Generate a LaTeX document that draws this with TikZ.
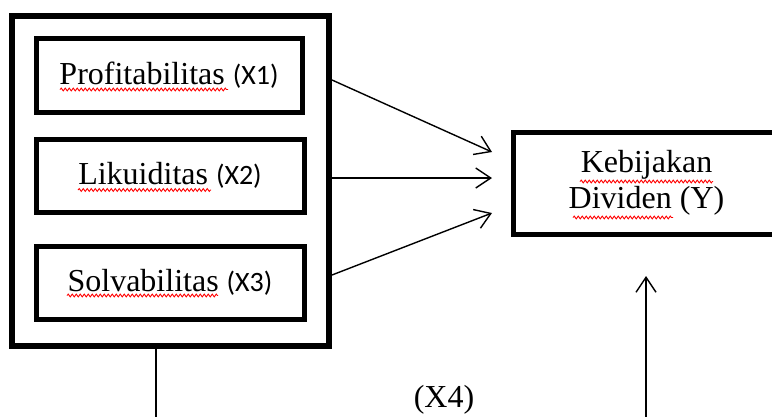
\documentclass[tikz,border=0pt]{standalone}
\usepackage{fontspec}
\setmainfont{Liberation Serif}
\newfontfamily\sansx{Carlito}
\usetikzlibrary{arrows.meta,decorations.pathmorphing}
\begin{document}
\begin{tikzpicture}[x=1pt,y=-1pt,
  varbox/.style={draw,line width=5pt,minimum width=268pt,minimum height=73pt,inner sep=0pt,
    font=\fontsize{32}{36}\selectfont},
  grpbox/.style={draw,line width=6pt,minimum width=317pt,minimum height=330pt,inner sep=0pt},
  arr/.style={line width=1.4pt,-{Straight Barb[length=15pt,width=20pt,line width=1.4pt]}},
  plain/.style={line width=1.4pt},
  lbl/.style={font=\fontsize{32}{36}\selectfont,inner sep=0pt},
  wavy/.style={red,line width=0.9pt,decorate,decoration={snake,segment length=4pt,amplitude=1.4pt}}
]
\useasboundingbox (0,0) rectangle (772,416);
\clip (0,0) rectangle (772,416);
% group box
\node[grpbox] (grp) at (170.5,181) {};
\node[varbox,minimum width=266pt,minimum height=74pt] (p1) at (169,75) {Profitabilitas {\sansx\fontsize{28}{32}\selectfont(X1)}};
\node[varbox] (p2) at (170,175.5) {Likuiditas {\sansx\fontsize{28}{32}\selectfont(X2)}};
\node[varbox] (p3) at (170,282.5) {Solvabilitas {\sansx\fontsize{28}{32}\selectfont(X3)}};
% dependent
\node[varbox,minimum width=267pt,minimum height=102pt,align=center] (y) at (646.5,183)
  {Kebijakan\\Dividen (Y)};
% moderator label
\node[lbl,anchor=base] (x4) at (444,407) {(X4)};
% arrow ends
\coordinate (t1) at (492,152);
\coordinate (t2) at (492,178);
\coordinate (t3) at (492,213);
\coordinate (t4) at (646,276);
\coordinate (b1) at (156,420);
\coordinate (b2) at (646,420);
\draw[arr] (grp.east |- 0,80) -- (t1);
\draw[arr] (grp.east |- 0,178) -- (t2);
\draw[arr] (grp.east |- 0,275) -- (t3);
\draw[arr] (b2) -- (t4);
\draw[plain] (grp.south -| b1) -- (b1);
% spell-check underlines
\draw[wavy] (60,89.5) -- (228,89.5);
\draw[wavy] (78,190) -- (211,190);
\draw[wavy] (67,295.5) -- (218,295.5);
\draw[wavy] (580,181.5) -- (713,181.5);
\draw[wavy] (573,217.5) -- (673,217.5);
\end{tikzpicture}
\end{document}
